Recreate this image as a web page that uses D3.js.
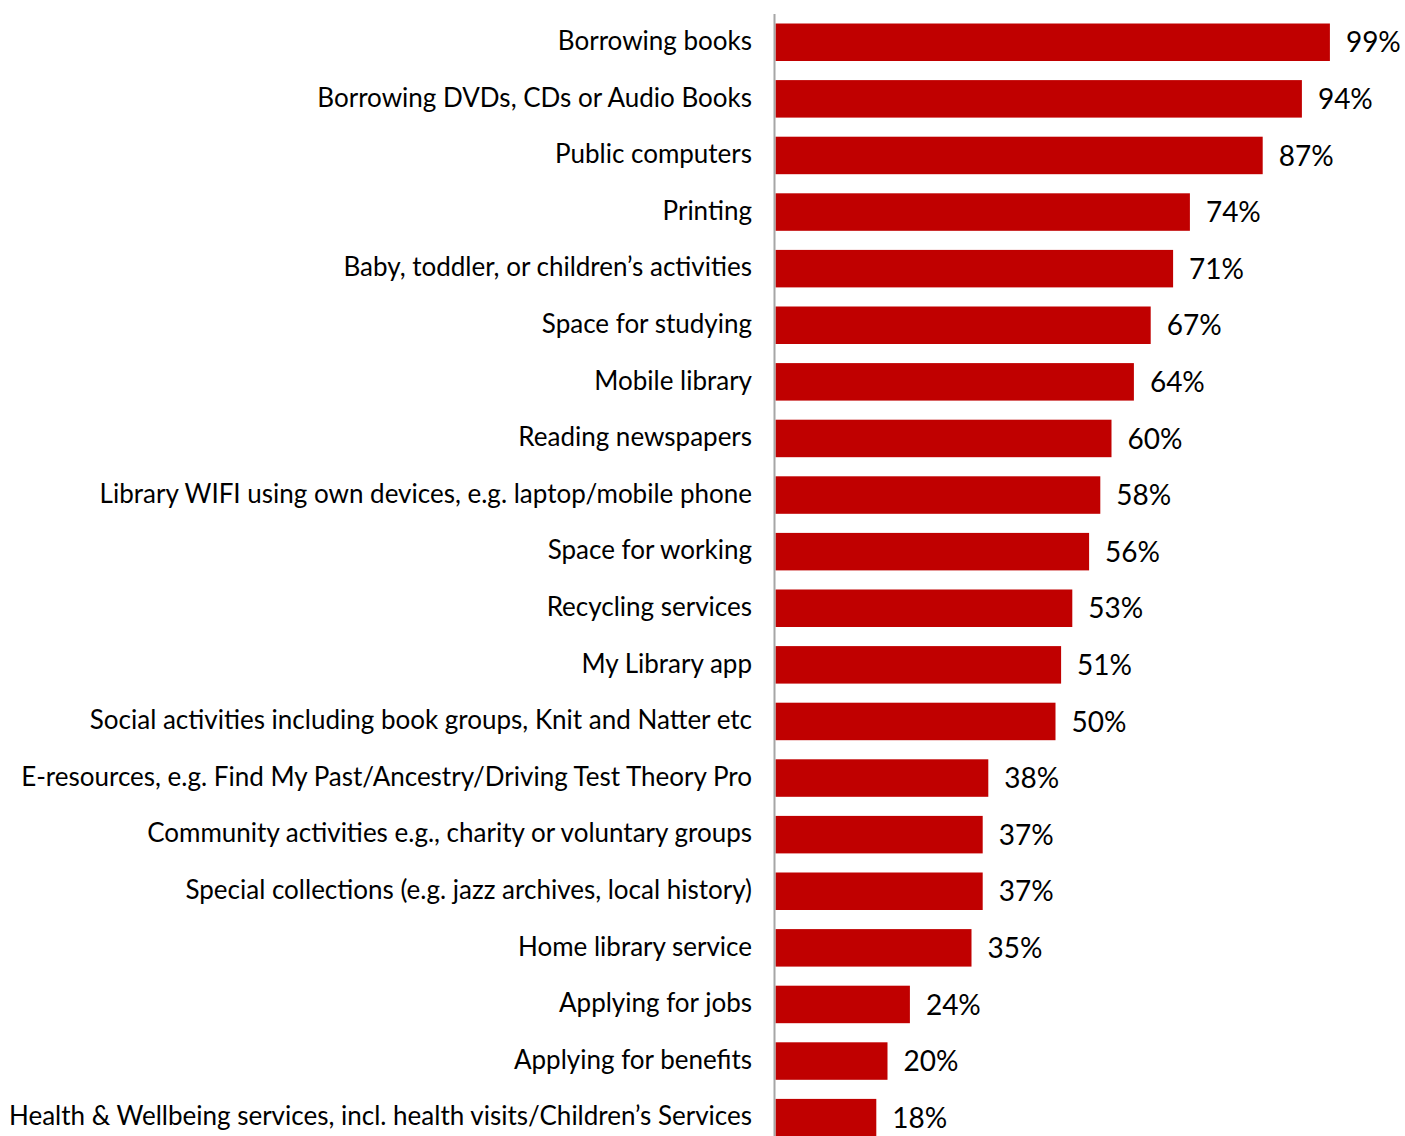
<!DOCTYPE html>
<html>
<head>
<meta charset="utf-8">
<script src="https://cdn.jsdelivr.net/npm/d3@7"></script>
<style>
  html, body { margin: 0; padding: 0; background: #fff; }
  svg { display: block; }
</style>
</head>
<body>
<svg id="chart" width="1405" height="1136"></svg>
<script>
// Library services used, share of respondents (%)
const categories = [
  "Borrowing books",
  "Borrowing DVDs, CDs or Audio Books",
  "Public computers",
  "Printing",
  "Baby, toddler, or children\u2019s activities",
  "Space for studying",
  "Mobile library",
  "Reading newspapers",
  "Library WIFI using own devices, e.g. laptop/mobile phone",
  "Space for working",
  "Recycling services",
  "My Library app",
  "Social activities including book groups, Knit and Natter etc",
  "E-resources, e.g. Find My Past/Ancestry/Driving Test Theory Pro",
  "Community activities e.g., charity or voluntary groups",
  "Special collections (e.g. jazz archives, local history)",
  "Home library service",
  "Applying for jobs",
  "Applying for benefits",
  "Health & Wellbeing services, incl. health visits/Children\u2019s Services"
];
const values = [99, 94, 87, 74, 71, 67, 64, 60, 58, 56, 53, 51, 50, 38, 37, 37, 35, 24, 20, 18];

const svg = d3.select("#chart");
const axisX = 775.5;

const x = d3.scaleLinear().domain([0, 100]).range([axisX, axisX + 560]);
const y = d3.scaleBand()
  .domain(categories)
  .range([4.4, 1155.5])
  .paddingInner(0.3375)
  .paddingOuter(0.3375);

const data = categories.map((c, i) => ({ cat: c, val: values[i] }));

// bars
svg.append("g").selectAll("rect")
  .data(data)
  .join("rect")
  .attr("x", x(0))
  .attr("y", d => y(d.cat))
  .attr("width", d => x(d.val) - x(0))
  .attr("height", y.bandwidth())
  .attr("fill", "#C00000");

// vertical category axis line
svg.append("line")
  .attr("x1", axisX - 1).attr("x2", axisX - 1)
  .attr("y1", 14).attr("y2", 1136)
  .attr("stroke", "#a6a6a6")
  .attr("stroke-width", 2);

// category labels
svg.append("g").selectAll("text")
  .data(data)
  .join("text")
  .attr("x", 752)
  .attr("y", d => y(d.cat) + y.bandwidth() / 2)
  .attr("dy", "0.3em")
  .attr("text-anchor", "end")
  .attr("font-family", "Lato, 'Open Sans', sans-serif")
  .attr("font-size", 26)
  .attr("fill", "#000")
  .text(d => d.cat);

// value labels
svg.append("g").selectAll("text")
  .data(data)
  .join("text")
  .attr("x", d => x(d.val) + 16)
  .attr("y", d => y(d.cat) + y.bandwidth() / 2)
  .attr("dy", "0.36em")
  .attr("font-family", "Lato, 'Open Sans', sans-serif")
  .attr("font-size", 28)
  .attr("fill", "#000")
  .text(d => d.val + "%");
</script>
</body>
</html>
